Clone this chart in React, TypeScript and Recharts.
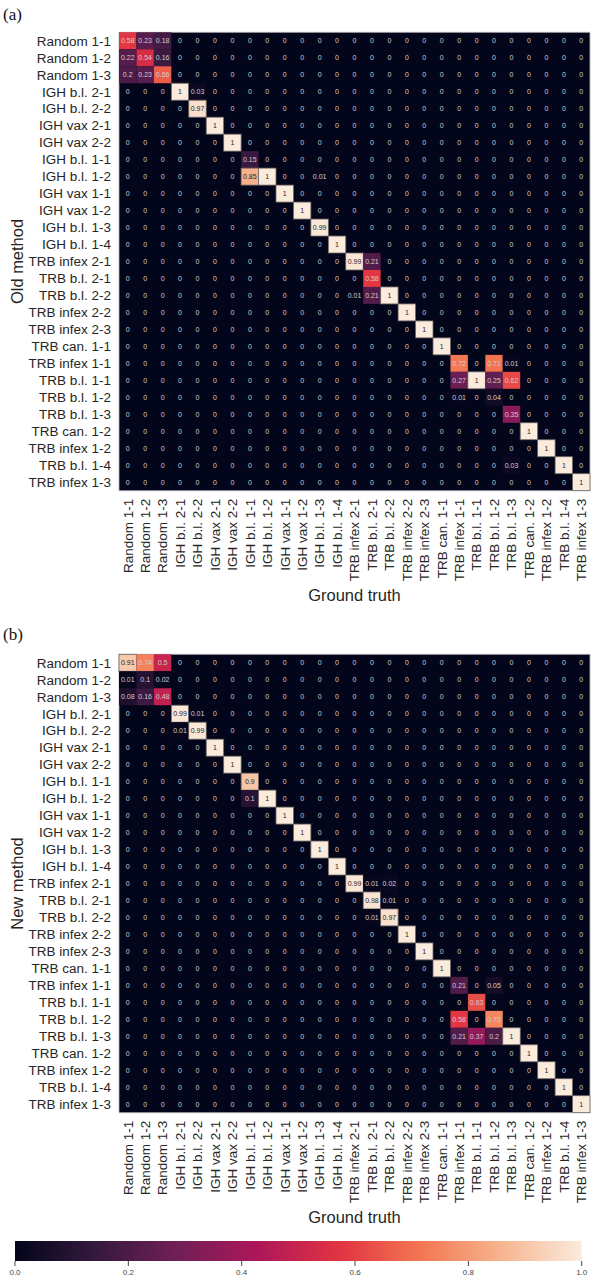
import { Bar, BarChart, ReferenceArea, Scatter, ScatterChart, XAxis, YAxis } from 'recharts';

const categories = [
  'Random 1-1', 'Random 1-2', 'Random 1-3',
  'IGH b.l. 2-1', 'IGH b.l. 2-2', 'IGH vax 2-1', 'IGH vax 2-2',
  'IGH b.l. 1-1', 'IGH b.l. 1-2', 'IGH vax 1-1', 'IGH vax 1-2',
  'IGH b.l. 1-3', 'IGH b.l. 1-4',
  'TRB infex 2-1', 'TRB b.l. 2-1', 'TRB b.l. 2-2', 'TRB infex 2-2', 'TRB infex 2-3',
  'TRB can. 1-1', 'TRB infex 1-1', 'TRB b.l. 1-1', 'TRB b.l. 1-2', 'TRB b.l. 1-3',
  'TRB can. 1-2', 'TRB infex 1-2', 'TRB b.l. 1-4', 'TRB infex 1-3'
];

// non-zero cells only: [row (prediction), column (ground truth), value]
const oldMethodCells: [number, number, number][] = [
  [0, 0, 0.58], [0, 1, 0.23], [0, 2, 0.18],
  [1, 0, 0.22], [1, 1, 0.54], [1, 2, 0.16],
  [2, 0, 0.2], [2, 1, 0.23], [2, 2, 0.66],
  [3, 3, 1], [3, 4, 0.03],
  [4, 4, 0.97],
  [5, 5, 1], [6, 6, 1],
  [7, 7, 0.15],
  [8, 7, 0.85], [8, 8, 1], [8, 11, 0.01],
  [9, 9, 1], [10, 10, 1], [11, 11, 0.99], [12, 12, 1],
  [13, 13, 0.99], [13, 14, 0.21],
  [14, 14, 0.58],
  [15, 13, 0.01], [15, 14, 0.21], [15, 15, 1],
  [16, 16, 1], [17, 17, 1], [18, 18, 1],
  [19, 19, 0.72], [19, 21, 0.71], [19, 22, 0.01],
  [20, 19, 0.27], [20, 20, 1], [20, 21, 0.25], [20, 22, 0.62],
  [21, 19, 0.01], [21, 21, 0.04],
  [22, 22, 0.35],
  [23, 23, 1], [24, 24, 1],
  [25, 22, 0.03], [25, 25, 1],
  [26, 26, 1]
];

const newMethodCells: [number, number, number][] = [
  [0, 0, 0.91], [0, 1, 0.74], [0, 2, 0.5],
  [1, 0, 0.01], [1, 1, 0.1], [1, 2, 0.02],
  [2, 0, 0.08], [2, 1, 0.16], [2, 2, 0.48],
  [3, 3, 0.99], [3, 4, 0.01],
  [4, 3, 0.01], [4, 4, 0.99],
  [5, 5, 1], [6, 6, 1],
  [7, 7, 0.9],
  [8, 7, 0.1], [8, 8, 1],
  [9, 9, 1], [10, 10, 1], [11, 11, 1], [12, 12, 1],
  [13, 13, 0.99], [13, 14, 0.01], [13, 15, 0.02],
  [14, 14, 0.98], [14, 15, 0.01],
  [15, 14, 0.01], [15, 15, 0.97],
  [16, 16, 1], [17, 17, 1], [18, 18, 1],
  [19, 19, 0.21], [19, 21, 0.05],
  [20, 20, 0.63],
  [21, 19, 0.58], [21, 21, 0.75],
  [22, 19, 0.21], [22, 20, 0.37], [22, 21, 0.2], [22, 22, 1],
  [23, 23, 1], [24, 24, 1], [25, 25, 1], [26, 26, 1]
];

const colorbarTicks = [0, 0.2, 0.4, 0.6, 0.8, 1];
const colorbarRange = [{ name: 'scale', range: [0, 1] }];

// seaborn "rocket" colormap, sampled
const rocketStops: [number, string][] = [
  [0, '#03051a'],
  [1 / 7, '#35193e'],
  [2 / 7, '#701f57'],
  [3 / 7, '#ad1759'],
  [4 / 7, '#e13342'],
  [5 / 7, '#f37651'],
  [6 / 7, '#f6b48f'],
  [1, '#faebdd']
];

const FONT = '"Liberation Sans", Arial, sans-serif';
const TEXT = '#262626';
const N = categories.length;
const PLOT_W = 471;
const PLOT_H = 458.4;
const TOP = 32.3;
const AXIS_W = 119;
const AXIS_H = 115;
const CHART_H = TOP + PLOT_H + AXIS_H;
const cellTicks = categories.map((_, i) => i + 0.5);

function hexToRgb(h: string) {
  return [1, 3, 5].map((i) => parseInt(h.slice(i, i + 2), 16));
}

function rocket(v: number) {
  for (let i = 1; i < rocketStops.length; i++) {
    const [p1, c1] = rocketStops[i];
    const [p0, c0] = rocketStops[i - 1];
    if (v <= p1) {
      const t = (v - p0) / (p1 - p0);
      const a = hexToRgb(c0);
      const b = hexToRgb(c1);
      return `rgb(${a.map((x, k) => Math.round(x + (b[k] - x) * t)).join(',')})`;
    }
  }
  return rocketStops[rocketStops.length - 1][1];
}

function luminance(rgb: string) {
  const [r, g, b] = rgb.match(/\d+/g)!.map((x) => {
    const c = Number(x) / 255;
    return c <= 0.03928 ? c / 12.92 : Math.pow((c + 0.055) / 1.055, 2.4);
  });
  return 0.2126 * r + 0.7152 * g + 0.0722 * b;
}

function buildGrid(cells: [number, number, number][]) {
  const lookup = new Map(cells.map(([r, c, v]) => [`${r}-${c}`, v]));
  const points: { x: number; y: number; v: number }[] = [];
  categories.forEach((_, r) =>
    categories.forEach((__, c) => {
      points.push({ x: c + 0.5, y: r + 0.5, v: lookup.get(`${r}-${c}`) ?? 0 });
    })
  );
  return points;
}

function HeatCell(props: any) {
  const { cx, cy, payload } = props;
  const w = PLOT_W / N;
  const h = PLOT_H / N;
  const fill = rocket(payload.v);
  const light = luminance(fill) > 0.408;
  return (
    <g>
      {payload.v > 0 && (
        <rect
          x={cx - w / 2}
          y={cy - h / 2}
          width={w}
          height={h}
          fill={fill}
          stroke={light ? '#6e6864' : fill}
          strokeWidth={light ? 0.8 : 0}
        />
      )}
      <text
        x={cx}
        y={cy}
        dy="0.36em"
        textAnchor="middle"
        fontSize={7}
        fontFamily={FONT}
        fill={light ? TEXT : '#cfcfcf'}
        opacity={0.999}
      >
        {String(Number(payload.v.toPrecision(2)))}
      </text>
    </g>
  );
}

function XTick({ x, y, payload }: any) {
  return (
    <text x={x} y={y} dy="0.36em" transform={`rotate(-90, ${x}, ${y})`} textAnchor="end" fontSize={13.5} fontFamily={FONT} fill={TEXT}>
      {categories[Math.floor(payload.value)]}
    </text>
  );
}

function Heatmap({ cells, yLabel }: { cells: [number, number, number][]; yLabel: string }) {
  const data = buildGrid(cells);
  return (
    <ScatterChart width={593} height={CHART_H} margin={{ top: TOP, right: 3, bottom: 0, left: 0 }}>
      <XAxis
        type="number"
        dataKey="x"
        domain={[0, N]}
        ticks={cellTicks}
        interval={0}
        height={AXIS_H}
        axisLine={false}
        tickLine={false}
        tick={<XTick />}
        label={{ value: 'Ground truth', position: 'insideBottom', offset: 4.5, fontSize: 16.5, fill: TEXT, fontFamily: FONT }}
      />
      <YAxis
        type="number"
        dataKey="y"
        domain={[0, N]}
        reversed
        ticks={cellTicks}
        interval={0}
        width={AXIS_W}
        axisLine={false}
        tickLine={false}
        tickFormatter={(v: number) => categories[Math.floor(v)]}
        tick={{ fontSize: 13.5, fill: TEXT, fontFamily: FONT }}
        label={{ value: yLabel, angle: -90, position: 'insideLeft', offset: 17, fontSize: 16.5, fill: TEXT, fontFamily: FONT, style: { textAnchor: 'middle' } }}
      />
      <ReferenceArea x1={0} x2={N} y1={0} y2={N} fill={rocketStops[0][1]} fillOpacity={1} stroke="#b8b8b8" strokeWidth={0.8} />
      <Scatter data={data} shape={<HeatCell />} isAnimationActive={false} />
    </ScatterChart>
  );
}

function Colorbar() {
  return (
    <BarChart
      width={593}
      height={49}
      layout="vertical"
      data={colorbarRange}
      barCategoryGap={0}
      margin={{ top: 11, right: 11.3, bottom: 0, left: 15 }}
    >
      <defs>
        <linearGradient id="rocketBar" x1="0" y1="0" x2="1" y2="0">
          {rocketStops.map(([p, c]) => (
            <stop key={p} offset={p} stopColor={c} />
          ))}
        </linearGradient>
      </defs>
      <XAxis
        type="number"
        domain={[0, 1]}
        ticks={colorbarTicks}
        interval={0}
        height={18}
        axisLine={false}
        tickSize={5}
        tickMargin={3}
        stroke="#444"
        tickFormatter={(v: number) => v.toFixed(1)}
        tick={{ fontSize: 8, fill: '#444', fontFamily: FONT }}
      />
      <YAxis type="category" dataKey="name" hide />
      <Bar dataKey="range" fill="url(#rocketBar)" isAnimationActive={false} />
    </BarChart>
  );
}

const panelTag = { position: 'absolute' as const, left: 3, fontFamily: '"Liberation Serif", "DejaVu Serif", serif', fontSize: 17, lineHeight: '17px', color: '#111' };

export default function App() {
  return (
    <div style={{ position: 'absolute', left: 0, top: 0, width: 593, height: 1279, overflow: 'hidden', background: '#fff' }}>
      <div style={{ ...panelTag, top: 5.5 }}>(a)</div>
      <div style={{ position: 'absolute', left: 0, top: 0 }}>
        <Heatmap cells={oldMethodCells} yLabel="Old method" />
      </div>
      <div style={{ ...panelTag, top: 625.5 }}>(b)</div>
      <div style={{ position: 'absolute', left: 0, top: 654 - TOP }}>
        <Heatmap cells={newMethodCells} yLabel="New method" />
      </div>
      <div style={{ position: 'absolute', left: 0, top: 1230 }}>
        <Colorbar />
      </div>
    </div>
  );
}
